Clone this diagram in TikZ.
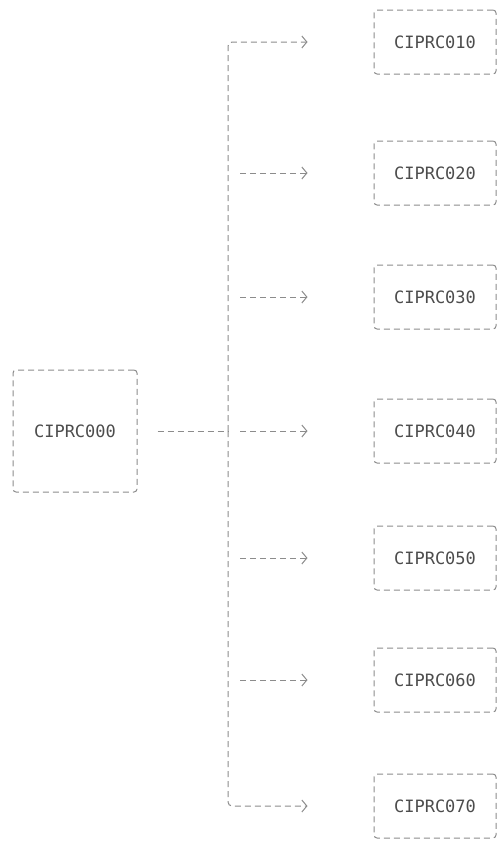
\documentclass[tikz,border=0pt]{standalone}
\usepackage{fontspec}
\setmonofont{DejaVu Sans Mono}
\usetikzlibrary{positioning,arrows.meta}

\begin{document}
\begin{tikzpicture}[x=1pt,y=1pt,>={Straight Barb[length=5pt,width=12pt]}]
    \tikzstyle{prog} = [draw=black!45, line width=1pt, dash pattern=on 6pt off 4pt, rounded corners=3pt, shape=rectangle, minimum width=122pt, minimum height=64pt, text=black!70, font=\fontsize{17}{20}\ttfamily]
    \tikzstyle{main} = [prog, minimum width=124pt, minimum height=122pt]
    \tikzstyle{link} = [color=black!45, line width=1pt, dash pattern=on 6pt off 4pt]
    \useasboundingbox (0,0) rectangle (497,-849);
    %Creating Blocks and Connection Nodes
    \node[main] (prc_000) at (75,-431) {CIPRC000};
    \node[prog, right=236pt of prc_000] (prc_040) {CIPRC040};
    \node[prog, above=69pt of prc_040] (prc_030) {CIPRC030};
    \node[prog, above=59pt of prc_030] (prc_020) {CIPRC020};
    \node[prog, above=66pt of prc_020] (prc_010) {CIPRC010};
    \node[prog, below=62pt of prc_040] (prc_050) {CIPRC050};
    \node[prog, below=57pt of prc_050] (prc_060) {CIPRC060};
    \node[prog, below=61pt of prc_060] (prc_070) {CIPRC070};
    \coordinate (bus) at (228,0);
    \coordinate (branch_2) at (prc_020.west -| bus);
    \coordinate (branch_3) at (prc_030.west -| bus);
    \coordinate (branch_4) at (prc_040.west -| bus);
    \coordinate (branch_5) at (prc_050.west -| bus);
    \coordinate (branch_6) at (prc_060.west -| bus);
    %Conecting Blocks
    \begin{scope}[link]
        \draw[shorten <=20pt] (prc_000) -- (branch_4);
        \draw[->, rounded corners=4pt, shorten >=66pt] (branch_4) |- (prc_010);
        \draw[->, rounded corners=4pt, shorten >=66pt] (branch_4) |- (prc_070);
        \draw[->, shorten <=12pt, shorten >=66pt] (branch_2) -- (prc_020);
        \draw[->, shorten <=12pt, shorten >=66pt] (branch_3) -- (prc_030);
        \draw[->, shorten <=12pt, shorten >=66pt] (branch_4) -- (prc_040);
        \draw[->, shorten <=12pt, shorten >=66pt] (branch_5) -- (prc_050);
        \draw[->, shorten <=12pt, shorten >=66pt] (branch_6) -- (prc_060);
    \end{scope}
\end{tikzpicture}
\end{document}
